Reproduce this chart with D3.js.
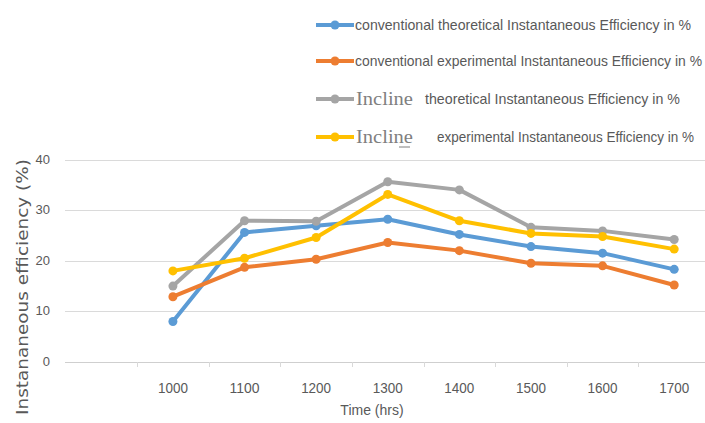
<!DOCTYPE html>
<html>
<head>
<meta charset="utf-8">
<script src="https://cdn.jsdelivr.net/npm/d3@7"></script>
<style>
  body { margin: 0; background: #fff; }
  text { fill: #595959; }
</style>
</head>
<body>
<div id="chart"></div>
<script>
// Chart data
const times = ["1000", "1100", "1200", "1300", "1400", "1500", "1600", "1700"];
const convTheo = [8.0, 25.6, 26.9, 28.2, 25.2, 22.8, 21.5, 18.3];
const convExp = [12.9, 18.7, 20.3, 23.6, 22.0, 19.5, 19.0, 15.2];
const inclTheo = [15.0, 27.9, 27.8, 35.6, 34.0, 26.6, 25.9, 24.2];
const inclExp = [18.0, 20.5, 24.6, 33.1, 27.9, 25.4, 24.8, 22.3];
const yTicks = [0, 10, 20, 30, 40];

const series = [
  { lead: "conventional", name: "conventional theoretical  Instantaneous Efficiency in %", values: convTheo, color: "#5b9bd5" },
  { lead: "conventional", name: "conventional experimental  Instantaneous Efficiency in %", values: convExp, color: "#ed7d31" },
  { lead: "Incline", name: "theoretical  Instantaneous Efficiency in %", values: inclTheo, color: "#a5a5a5" },
  { lead: "Incline", name: "experimental  Instantaneous Efficiency in %", values: inclExp, color: "#ffc000" }
];

const width = 705, height = 423;
const narrow = "'Liberation Sans Narrow', 'Liberation Sans', sans-serif";

const svg = d3.select("#chart").append("svg")
  .attr("width", width)
  .attr("height", height);

// Scales: leading empty slot like the original
const x = d3.scaleBand()
  .domain([""].concat(times))
  .range([65.5, 710])
  .padding(0);
const xc = d => x(d) + x.bandwidth() / 2;

const y = d3.scaleLinear()
  .domain([0, 40])
  .range([362, 159.5]);

// Gridlines
svg.append("g")
  .selectAll("line")
  .data(yTicks)
  .join("line")
  .attr("x1", 65)
  .attr("x2", width)
  .attr("y1", d => Math.round(y(d)) + 0.5)
  .attr("y2", d => Math.round(y(d)) + 0.5)
  .attr("stroke", d => d === 0 ? "#cfcfcf" : "#dadada")
  .attr("stroke-width", 1.2);

// Y tick labels
svg.append("g")
  .selectAll("text")
  .data(yTicks)
  .join("text")
  .attr("x", 50)
  .attr("y", d => y(d) + 4)
  .attr("text-anchor", "end")
  .style("font-family", narrow)
  .style("font-size", "13px")
  .text(d => d);

// X ticks at category boundaries
svg.append("g")
  .selectAll("line")
  .data(times)
  .join("line")
  .attr("x1", d => Math.round(x(d)) + 0.5)
  .attr("x2", d => Math.round(x(d)) + 0.5)
  .attr("y1", y(0))
  .attr("y2", y(0) + 5)
  .attr("stroke", "#d9d9d9");

// X labels
svg.append("g")
  .selectAll("text")
  .data(times)
  .join("text")
  .attr("x", d => xc(d))
  .attr("y", 393)
  .attr("text-anchor", "middle")
  .attr("textLength", 30)
  .attr("lengthAdjust", "spacingAndGlyphs")
  .style("font-family", narrow)
  .style("font-size", "14px")
  .text(d => d);

// Axis titles
svg.append("text")
  .attr("x", 372)
  .attr("y", 415)
  .attr("text-anchor", "middle")
  .style("font-family", narrow)
  .style("font-size", "14px")
  .text("Time (hrs)");

svg.append("text")
  .attr("transform", "translate(28,287) rotate(-90)")
  .attr("text-anchor", "middle")
  .attr("textLength", 256)
  .attr("lengthAdjust", "spacingAndGlyphs")
  .style("font-family", "'DejaVu Sans', sans-serif")
  .style("font-size", "15px")
  .text("Instananeous efficiency (%)");

// Lines and markers
const line = d3.line()
  .x((d, i) => xc(times[i]))
  .y(d => y(d));

series.forEach(s => {
  svg.append("path")
    .datum(s.values)
    .attr("d", line)
    .attr("fill", "none")
    .attr("stroke", s.color)
    .attr("stroke-width", 4)
    .attr("stroke-linejoin", "round");
  svg.append("g")
    .selectAll("circle")
    .data(s.values)
    .join("circle")
    .attr("cx", (d, i) => xc(times[i]))
    .attr("cy", d => y(d))
    .attr("r", 4.5)
    .attr("fill", s.color);
});

// Legend
const legendRows = [25, 61, 99, 137];
const legend = svg.append("g");
series.forEach((s, i) => {
  const ly = legendRows[i];
  legend.append("line")
    .attr("x1", 316).attr("x2", 354)
    .attr("y1", ly).attr("y2", ly)
    .attr("stroke", s.color)
    .attr("stroke-width", 4);
  legend.append("circle")
    .attr("cx", 335).attr("cy", ly).attr("r", 4.5)
    .attr("fill", s.color);
});

// legend label: small font squeezed/stretched to the original's narrow look
function legendText(tx, ty, len, str) {
  legend.append("text")
    .attr("transform", `translate(${tx},${ty}) scale(1,1.2)`)
    .attr("textLength", len)
    .attr("lengthAdjust", "spacingAndGlyphs")
    .style("font-family", narrow)
    .style("font-size", "12px")
    .text(str);
}

legendText(355, legendRows[0] + 5, 336, series[0].name);
legendText(355, legendRows[1] + 5, 347, series[1].name);

[2, 3].forEach((k, j) => {
  const ly = legendRows[k];
  legend.append("text")
    .attr("x", 356).attr("y", ly + 6)
    .attr("textLength", 57).attr("lengthAdjust", "spacingAndGlyphs")
    .style("font-family", "'Liberation Serif', serif")
    .style("font-size", "19px")
    .style("fill", "#7f7f7f")
    .text(series[k].lead);
  legendText(j === 0 ? 425 : 437, ly + 5, j === 0 ? 255 : 257, series[k].name);
});
// small underline under the second "Incline", as in the original
legend.append("line")
  .attr("x1", 399).attr("x2", 410)
  .attr("y1", legendRows[3] + 10).attr("y2", legendRows[3] + 10)
  .attr("stroke", "#7f7f7f").attr("stroke-width", 1);
</script>
</body>
</html>
